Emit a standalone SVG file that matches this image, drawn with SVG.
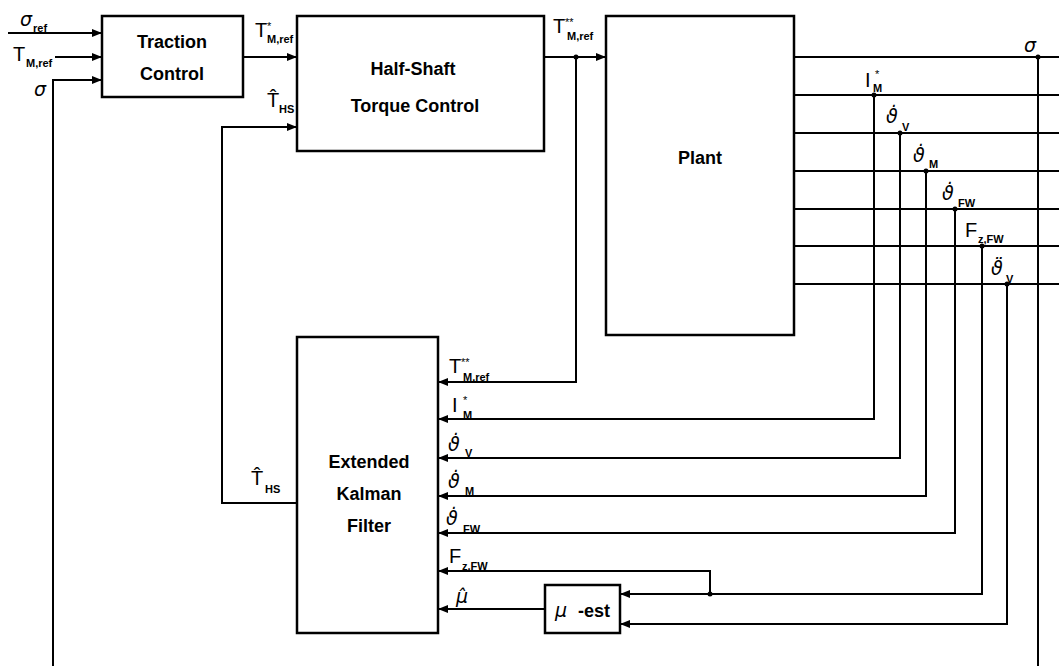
<svg xmlns="http://www.w3.org/2000/svg" width="1059" height="666" viewBox="0 0 1059 666">
<style>
.box{fill:#fff;stroke:#000;stroke-width:2.5}
.ln{fill:none;stroke:#000;stroke-width:2}
.arr{marker-end:url(#ah)}
.bt{font-family:"Liberation Sans",Arial,sans-serif;font-size:18px;font-weight:bold;text-anchor:middle}
.m{font-family:"Liberation Sans",Arial,sans-serif;font-size:20px}
.g{font-family:"DejaVu Sans","Liberation Sans",sans-serif;font-size:19px;font-style:italic}
.s{font-family:"Liberation Sans",Arial,sans-serif;font-size:11px;font-weight:bold}
.st{font-family:"Liberation Sans",Arial,sans-serif;font-size:11px}
</style>
<defs>
<marker id="ah" markerUnits="userSpaceOnUse" markerWidth="10" markerHeight="8" refX="10" refY="4" orient="auto">
<path d="M0,0 L10,4 L0,8 z" fill="#000"/>
</marker>
</defs>
<rect width="1059" height="666" fill="#fff"/>

<g id="connectors">
<path class="ln arr" d="M8,33 H102"/>
<path class="ln arr" d="M55,57 H102"/>
<path class="ln arr" d="M53,666 V80 H102"/>
<path class="ln arr" d="M243,57 H297"/>
<path class="ln arr" d="M544,57 H606"/>
<path class="ln arr" d="M576,57 V382 H438"/>
<path class="ln arr" d="M297,503 H222 V127 H297"/>
<path class="ln" d="M794,57 H1059 M794,95 H1059 M794,133 H1059 M794,171 H1059 M794,209 H1059 M794,246 H1059 M794,284 H1059"/>
<path class="ln" d="M1038,57 V666"/>
<path class="ln arr" d="M874,95 V419 H438"/>
<path class="ln arr" d="M900,133 V458 H438"/>
<path class="ln arr" d="M926,171 V496 H438"/>
<path class="ln arr" d="M955,209 V533 H438"/>
<path class="ln arr" d="M982,246 V594 H620"/>
<path class="ln arr" d="M1007,284 V624 H620"/>
<path class="ln arr" d="M710,594 V571 H438"/>
<path class="ln arr" d="M545,609 H438"/>
<g fill="#000">
<circle cx="576" cy="57" r="2.5"/>
<circle cx="1038" cy="57" r="2.5"/>
<circle cx="874" cy="95" r="2.5"/>
<circle cx="900" cy="133" r="2.5"/>
<circle cx="926" cy="171" r="2.5"/>
<circle cx="955" cy="209" r="2.5"/>
<circle cx="982" cy="246" r="2.5"/>
<circle cx="1007" cy="284" r="2.5"/>
<circle cx="710" cy="594" r="2.5"/>
</g>
</g>

<g id="traction-control">
<rect class="box" x="102" y="16" width="141" height="81"/>
<text class="bt" x="172" y="48">Traction</text>
<text class="bt" x="172" y="80">Control</text>
</g>

<g id="half-shaft-torque-control">
<rect class="box" x="297" y="16" width="247" height="135"/>
<text class="bt" x="413" y="75">Half-Shaft</text>
<text class="bt" x="415" y="112">Torque Control</text>
</g>

<g id="plant">
<rect class="box" x="606" y="16" width="188" height="319"/>
<text class="bt" x="700" y="164">Plant</text>
</g>

<g id="ekf">
<rect class="box" x="297" y="337" width="141" height="296"/>
<text class="bt" x="369" y="468">Extended</text>
<text class="bt" x="369" y="500">Kalman</text>
<text class="bt" x="369" y="532">Filter</text>
</g>

<g id="mu-est">
<rect class="box" x="545" y="585" width="75" height="48"/>
<text class="g" x="555" y="617">μ</text>
<text class="bt" x="594" y="617">-est</text>
</g>

<g id="labels">
<text class="g" x="20" y="26">σ</text><text class="s" x="33" y="32">ref</text>
<text class="m" x="13" y="61">T</text><text class="s" x="26" y="67">M,ref</text>
<text class="g" x="34" y="96">σ</text>
<text class="m" x="255" y="37">T</text><text class="st" x="267" y="30">*</text><text class="s" x="267" y="43">M,ref</text>
<text class="m" x="267" y="107">T̂</text><text class="s" x="279" y="113">HS</text>
<text class="m" x="553" y="33">T</text><text class="st" x="565" y="26">**</text><text class="s" x="567" y="40">M,ref</text>
<text class="g" x="1024" y="52">σ</text>
<text class="m" x="865" y="87">I</text><text class="st" x="875" y="78">*</text><text class="s" x="873" y="92">M</text>
<text class="g" x="886" y="123">ϑ̇</text><text class="s" x="902" y="131">V</text>
<text class="g" x="913" y="162">ϑ̇</text><text class="s" x="929" y="168">M</text>
<text class="g" x="942" y="200">ϑ̇</text><text class="s" x="958" y="207">FW</text>
<text class="m" x="965" y="237">F</text><text class="s" x="978" y="243">z,FW</text>
<text class="g" x="991" y="275">ϑ̈</text><text class="s" x="1006" y="283">V</text>
<text class="m" x="449" y="373">T</text><text class="st" x="461" y="366">**</text><text class="s" x="463" y="381">M,ref</text>
<text class="m" x="452" y="412">I</text><text class="st" x="463" y="404">*</text><text class="s" x="463" y="419">M</text>
<text class="g" x="448" y="451">ϑ̇</text><text class="s" x="465" y="457">V</text>
<text class="g" x="448" y="488">ϑ̇</text><text class="s" x="465" y="495">M</text>
<text class="g" x="446" y="525">ϑ̇</text><text class="s" x="463" y="533">FW</text>
<text class="m" x="449" y="563">F</text><text class="s" x="462" y="570">z,FW</text>
<text class="g" x="456" y="603">μ̂</text>
<text class="m" x="251" y="485">T̂</text><text class="s" x="265" y="493">HS</text>
</g>
</svg>
